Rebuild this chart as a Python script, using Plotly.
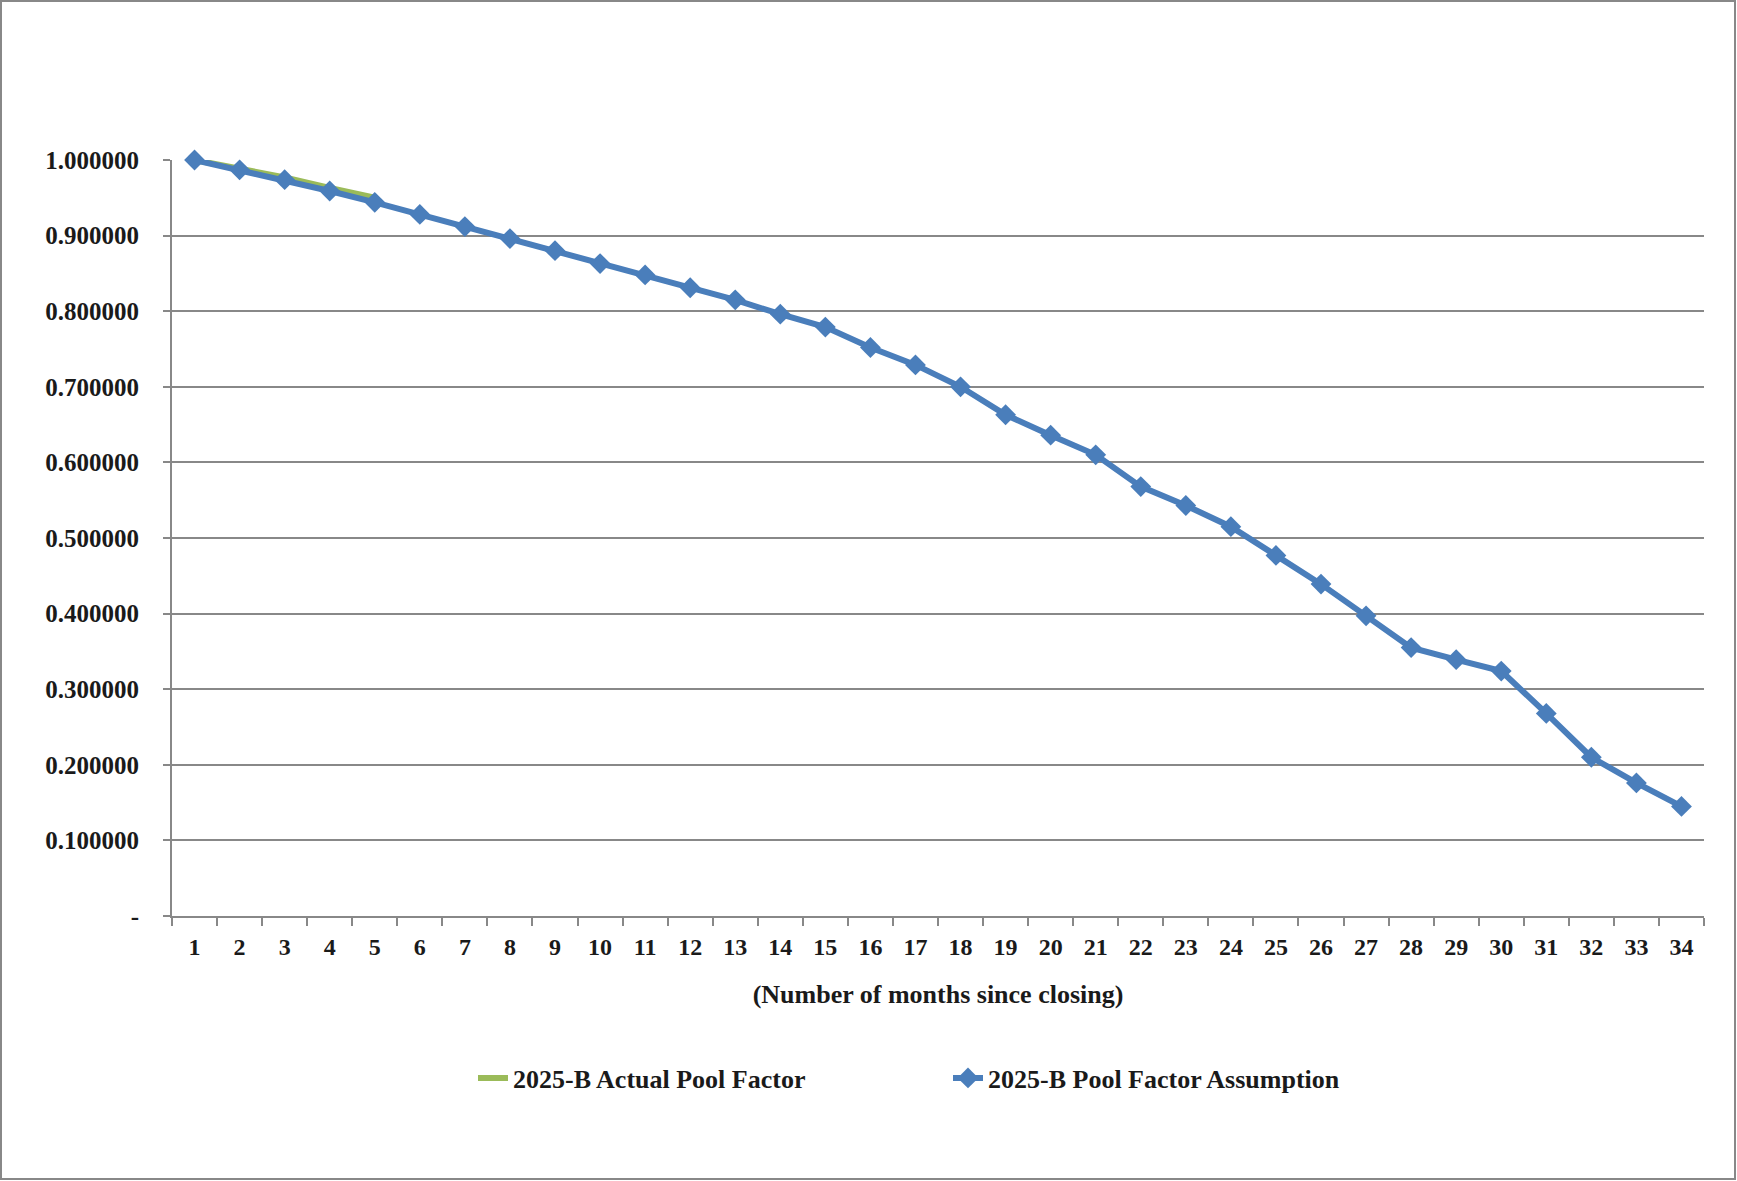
import plotly.graph_objects as go

months = [str(i) for i in range(1, 35)]
assumption = [1.000, 0.987, 0.974, 0.959, 0.944, 0.928, 0.912, 0.896, 0.880, 0.863,
              0.848, 0.831, 0.815, 0.796, 0.779, 0.752, 0.729, 0.700, 0.663, 0.636,
              0.610, 0.568, 0.543, 0.515, 0.477, 0.439, 0.397, 0.355, 0.339, 0.324,
              0.268, 0.210, 0.176, 0.145]
actual_months = months[:5]
actual = [1.000, 0.989, 0.977, 0.963, 0.950]

ytick_vals = [0, 0.1, 0.2, 0.3, 0.4, 0.5, 0.6, 0.7, 0.8, 0.9, 1.0]
ytick_text = ["-", "0.100000", "0.200000", "0.300000", "0.400000", "0.500000",
              "0.600000", "0.700000", "0.800000", "0.900000", "1.000000"]

FONT = "Liberation Serif"
GRID = "#888888"
TXT = "#1a1a1a"

fig = go.Figure()
fig.add_trace(go.Scatter(
    x=actual_months, y=actual, mode="lines", name="<b>2025-B Actual Pool Factor</b>",
    line=dict(color="#9BBB59", width=6), cliponaxis=False))
fig.add_trace(go.Scatter(
    x=months, y=assumption, mode="lines+markers", name="<b>2025-B Pool Factor Assumption</b>",
    line=dict(color="#4A7EBB", width=6), cliponaxis=False,
    marker=dict(symbol="diamond", size=16, color="#4A7EBB")))

L, R, T, B = 172, 33, 160, 265
W, H = 1737, 1181
pw, ph = W - L - R, H - T - B

fig.update_layout(
    width=W, height=H,
    margin=dict(l=L, r=R, t=T, b=B),
    paper_bgcolor="white", plot_bgcolor="white",
    font=dict(family=FONT, size=25, color=TXT),
    showlegend=True,
    legend=dict(orientation="h", x=(473 - L) / pw, xanchor="left",
                y=-(1078 - (T + ph)) / ph, yanchor="middle",
                entrywidth=430, font=dict(family=FONT, size=26, color=TXT),
                bgcolor="rgba(0,0,0,0)"),
    xaxis=dict(type="category", range=[-0.5, 33.5], tickson="boundaries",
               showline=True, linecolor=GRID, linewidth=2,
               ticks="outside", ticklen=8, tickcolor=GRID, tickwidth=2,
               ticklabelstandoff=8,
               showgrid=False, tickfont=dict(family=FONT, size=24, color=TXT, weight="bold"),
               title=dict(text="<b>(Number of months since closing)</b>", standoff=26,
                          font=dict(family=FONT, size=26, color=TXT))),
    yaxis=dict(range=[0, 1.0], tickvals=ytick_vals, ticktext=ytick_text,
               showline=True, linecolor=GRID, linewidth=2,
               ticks="outside", ticklen=7, tickcolor=GRID, tickwidth=2,
               showgrid=True, gridcolor=GRID, gridwidth=2, zeroline=False,
               ticklabelstandoff=19,
               tickfont=dict(family=FONT, size=25, color=TXT, weight="bold")),
)

fig.add_shape(type="rect", xref="paper", yref="paper",
              x0=(1 - L) / pw, x1=(W - 2 - L) / pw,
              y0=-(H - 2 - (T + ph)) / ph, y1=1 + (T - 1) / ph,
              line=dict(color="#888888", width=2), fillcolor="rgba(0,0,0,0)", layer="below")

fig.write_html("out.html", config={"displayModeBar": False},
               post_script="document.body.style.margin='0';document.body.style.overflow='hidden';")
